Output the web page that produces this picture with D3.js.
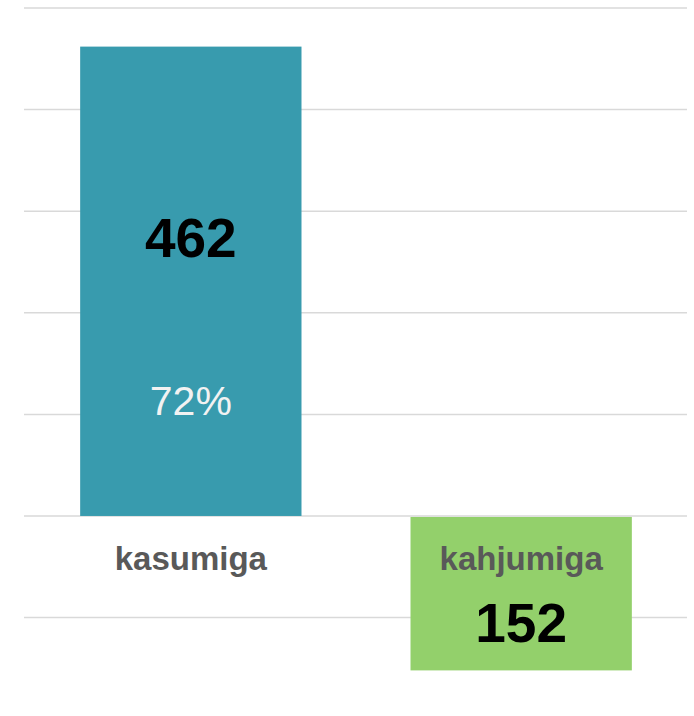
<!DOCTYPE html>
<html>
<head>
<meta charset="utf-8">
<script src="https://cdn.jsdelivr.net/npm/d3@7"></script>
<style>
  body { margin: 0; background: #fff; }
  text { font-family: "Liberation Sans", Arial, sans-serif; }
</style>
</head>
<body>
<div id="chart"></div>
<script>
// chart data
const categories = ["kasumiga", "kahjumiga"];
const values = [462, -152];
const shares = ["72%", ""];
const barColors = ["#389BAE", "#93D06B"];
const gridTicks = [-100, 0, 100, 200, 300, 400, 500];

const width = 694;
const height = 716;
const margin = { top: 8, right: 6, bottom: 7, left: 24 };

const svg = d3.select("#chart")
    .append("svg")
    .attr("width", width)
    .attr("height", height);

// scales
const x = d3.scaleBand()
    .domain(categories)
    .range([margin.left, width - margin.right])
    .paddingInner(0.33)
    .paddingOuter(0.17);

const y = d3.scaleLinear()
    .domain([-190, 500])
    .range([709, margin.top]);

// horizontal gridlines
svg.append("g")
    .selectAll("line")
    .data(gridTicks)
    .enter().append("line")
    .attr("x1", margin.left)
    .attr("x2", width - margin.right - 1)
    .attr("y1", d => y(d))
    .attr("y2", d => y(d))
    .attr("stroke", "#d9d9d9")
    .attr("stroke-width", 1.5);

const data = categories.map((c, i) => ({ name: c, value: values[i], share: shares[i], color: barColors[i] }));

// bars
svg.selectAll(".bar")
    .data(data)
    .enter().append("rect")
    .attr("class", "bar")
    .attr("x", d => x(d.name))
    .attr("width", x.bandwidth())
    .attr("y", d => d.value >= 0 ? y(d.value) : y(0) + 1)
    .attr("height", d => Math.abs(y(d.value) - y(0)) - (d.value >= 0 ? 0 : 1))
    .attr("fill", d => d.color);

// category labels just below the zero line
svg.selectAll(".cat")
    .data(data)
    .enter().append("text")
    .attr("class", "cat")
    .attr("x", d => x(d.name) + x.bandwidth() / 2)
    .attr("y", y(0) + 54)
    .attr("text-anchor", "middle")
    .attr("font-size", 33)
    .attr("font-weight", "bold")
    .attr("fill", "#595959")
    .text(d => d.name);

// value labels
svg.selectAll(".val")
    .data(data)
    .enter().append("text")
    .attr("class", "val")
    .attr("x", d => x(d.name) + x.bandwidth() / 2)
    .attr("y", d => d.value >= 0 ? y(d.value * 0.595) + 20 : y(d.value * 0.7) + 18)
    .attr("text-anchor", "middle")
    .attr("font-size", 55)
    .attr("font-weight", "bold")
    .attr("fill", "#000")
    .text(d => Math.abs(d.value));

// percentage label inside the first bar
svg.selectAll(".pct")
    .data(data.filter(d => d.share))
    .enter().append("text")
    .attr("class", "pct")
    .attr("x", d => x(d.name) + x.bandwidth() / 2)
    .attr("y", d => y(d.value * 0.25) + 16)
    .attr("text-anchor", "middle")
    .attr("font-family", "'Open Sans', sans-serif")
    .attr("font-weight", 300)
    .attr("font-size", 41)
    .attr("fill", "#f2f2f2")
    .text(d => d.share);
</script>
</body>
</html>
